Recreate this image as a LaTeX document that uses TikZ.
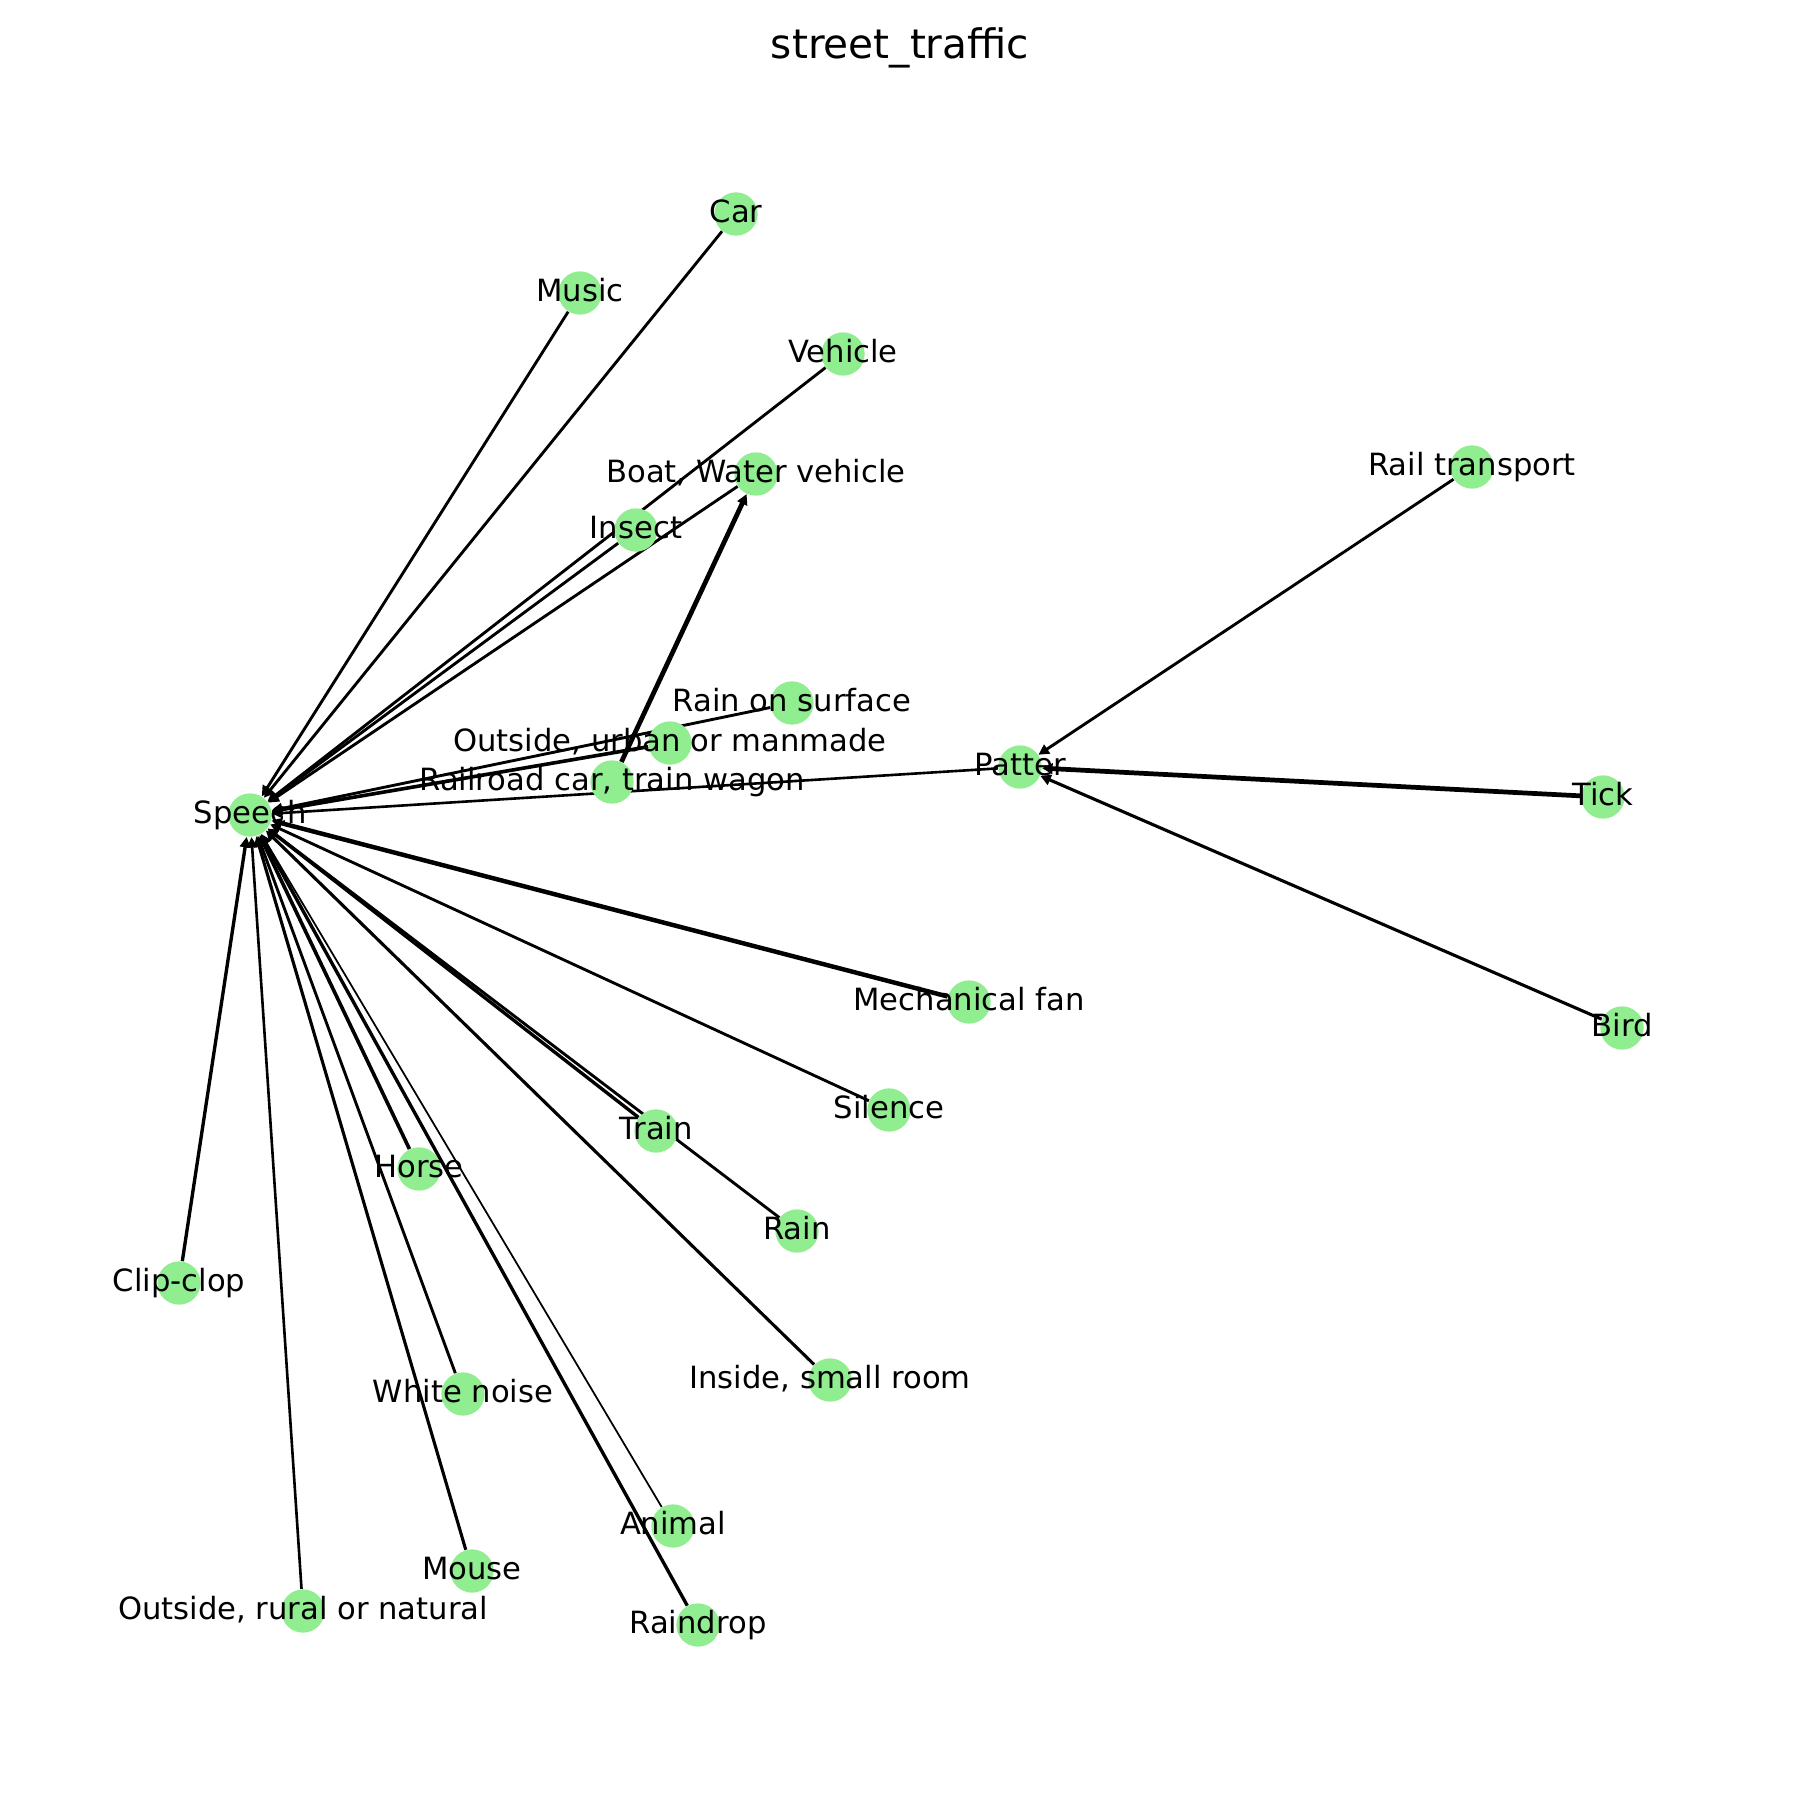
\documentclass[tikz,border=0pt]{standalone}
\usepackage{fontspec}
\setmainfont{DejaVu Sans}
\usetikzlibrary{arrows.meta}
\pgfdeclarelayer{background}
\pgfsetlayers{background,main}
\definecolor{nodegreen}{HTML}{90EE90}
\tikzset{
  vnode/.style={circle, fill=nodegreen, draw=none, minimum size=17.38pt, inner sep=0pt},
  vlabel/.style={inner sep=0pt, font=\fontsize{12.3}{14}\selectfont, text height=9.3pt, text depth=2.4pt},
  link/.style={-{Triangle[length=4.2pt,width=4.2pt]}, line width=1.15pt, black},
}
\begin{document}
\begin{tikzpicture}[x=0.4015pt, y=-0.4015pt]
\useasboundingbox (0,0) rectangle (1800,1800);
\node[anchor=base, inner sep=0pt, font=\fontsize{16.3}{19}\selectfont] (title) at (900,58) {street\_traffic};

\node[vnode] (speech) at (250,815) {};
\node[vnode] (car) at (736,214) {};
\node[vnode] (music) at (580,293) {};
\node[vnode] (vehicle) at (843,354) {};
\node[vnode] (boat) at (756,474) {};
\node[vnode] (insect) at (636,530) {};
\node[vnode] (railtr) at (1472,467) {};
\node[vnode] (rainsurf) at (792,703) {};
\node[vnode] (outurban) at (670,743) {};
\node[vnode] (railcar) at (612,782) {};
\node[vnode] (patter) at (1020,767) {};
\node[vnode] (tick) at (1603,797) {};
\node[vnode] (bird) at (1622,1028) {};
\node[vnode] (mechfan) at (969,1002) {};
\node[vnode] (silence) at (889,1110) {};
\node[vnode] (train) at (656,1131) {};
\node[vnode] (rain) at (797,1231) {};
\node[vnode] (horse) at (419,1169) {};
\node[vnode] (clipclop) at (179,1283) {};
\node[vnode] (whitenoise) at (463,1394) {};
\node[vnode] (inside) at (830,1380) {};
\node[vnode] (animal) at (673,1526) {};
\node[vnode] (mouse) at (472,1571) {};
\node[vnode] (outrural) at (303,1611) {};
\node[vnode] (raindrop) at (698,1625) {};

\node[vlabel] (speech-t) at (speech) {Speech};
\node[vlabel] (car-t) at (car) {Car};
\node[vlabel] (music-t) at (music) {Music};
\node[vlabel] (vehicle-t) at (vehicle) {Vehicle};
\node[vlabel] (boat-t) at (boat) {Boat, Water vehicle};
\node[vlabel] (insect-t) at (insect) {Insect};
\node[vlabel] (railtr-t) at (railtr) {Rail transport};
\node[vlabel] (rainsurf-t) at (rainsurf) {Rain on surface};
\node[vlabel] (outurban-t) at (outurban) {Outside, urban or manmade};
\node[vlabel] (railcar-t) at (railcar) {Railroad car, train wagon};
\node[vlabel] (patter-t) at (patter) {Patter};
\node[vlabel] (tick-t) at (tick) {Tick};
\node[vlabel] (bird-t) at (bird) {Bird};
\node[vlabel] (mechfan-t) at (mechfan) {Mechanical fan};
\node[vlabel] (silence-t) at (silence) {Silence};
\node[vlabel] (train-t) at (train) {Train};
\node[vlabel] (rain-t) at (rain) {Rain};
\node[vlabel] (horse-t) at (horse) {Horse};
\node[vlabel] (clipclop-t) at (clipclop) {Clip-clop};
\node[vlabel] (whitenoise-t) at (whitenoise) {White noise};
\node[vlabel] (inside-t) at (inside) {Inside, small room};
\node[vlabel] (animal-t) at (animal) {Animal};
\node[vlabel] (mouse-t) at (mouse) {Mouse};
\node[vlabel] (outrural-t) at (outrural) {Outside, rural or natural};
\node[vlabel] (raindrop-t) at (raindrop) {Raindrop};

\begin{pgfonlayer}{background}
\fill[white] (0,0) rectangle (1800,1800);
\draw[link] (car) -- (speech);
\draw[link] (music) -- (speech);
\draw[link] (vehicle) -- (speech);
\draw[link] (boat) -- (speech);
\draw[link] (insect) -- (speech);
\draw[link, line width=1.9pt] (railcar) -- (boat);
\draw[link] (rainsurf) -- (speech);
\draw[link, line width=1.45pt] (outurban) -- (speech);
\draw[link, line width=1.05pt] (patter) -- (speech);
\draw[link] (railtr) -- (patter);
\draw[link, line width=1.9pt] (tick) -- (patter);
\draw[link, line width=1.25pt] (bird) -- (patter);
\draw[link, line width=1.8pt] (mechfan) -- (speech);
\draw[link] (silence) -- (speech);
\draw[link, line width=1.35pt] (train) -- (speech);
\draw[link] (rain) -- (speech);
\draw[link, line width=1.25pt] (inside) -- (speech);
\draw[link, line width=1.45pt] (horse) -- (speech);
\draw[link, line width=0.7pt] (animal) -- (speech);
\draw[link, line width=1.35pt] (raindrop) -- (speech);
\draw[link] (whitenoise) -- (speech);
\draw[link, line width=1.25pt] (mouse) -- (speech);
\draw[link, line width=1.05pt] (outrural) -- (speech);
\draw[link, line width=1.35pt] (clipclop) -- (speech);
\end{pgfonlayer}
\end{tikzpicture}
\end{document}
